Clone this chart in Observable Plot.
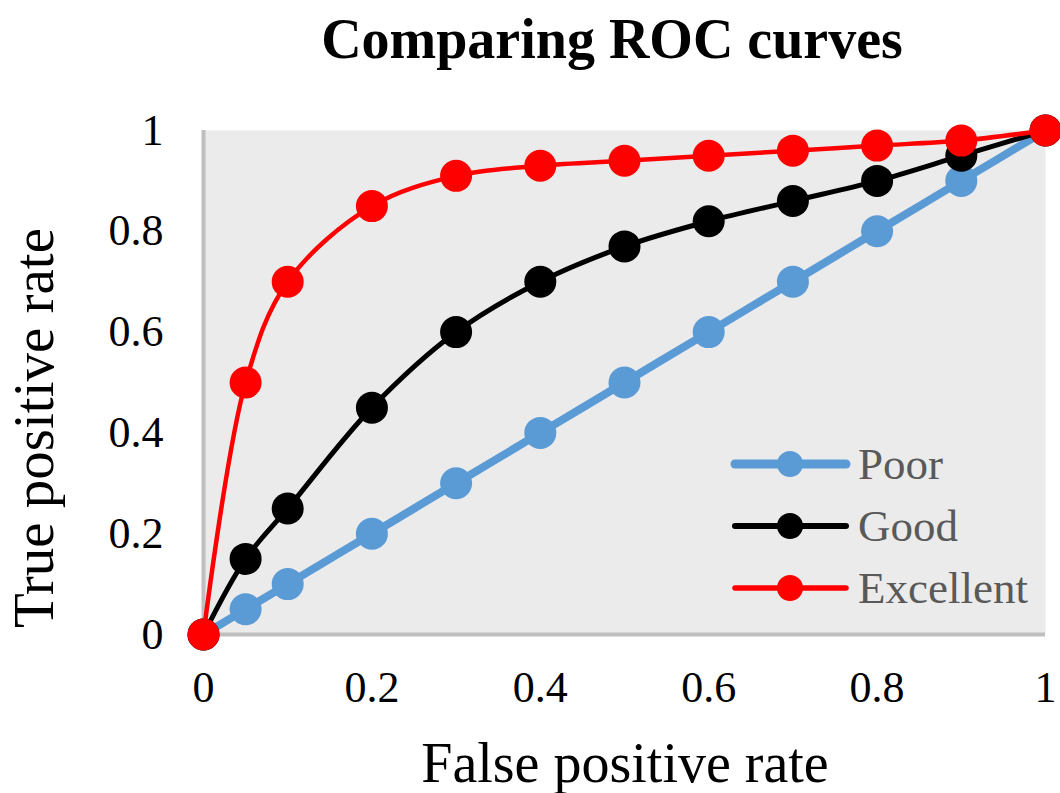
<!DOCTYPE html>
<html>
<head>
<meta charset="utf-8">
<script src="https://cdn.jsdelivr.net/npm/d3@7"></script>
<script src="https://cdn.jsdelivr.net/npm/@observablehq/plot@0.6"></script>
<style>
  body { margin: 0; background: #fff; }
  #wrap { position: relative; width: 1060px; height: 793px; font-family: "Liberation Serif", "Times New Roman", serif; }
  #wrap > svg { position: absolute; left: 0; top: 0; }
</style>
</head>
<body>
<div id="wrap"></div>
<script>
const fpr = [0, 0.05, 0.1, 0.2, 0.3, 0.4, 0.5, 0.6, 0.7, 0.8, 0.9, 1];
const poor = [0, 0.05, 0.1, 0.2, 0.3, 0.4, 0.5, 0.6, 0.7, 0.8, 0.9, 1];
const good = [0, 0.15, 0.25, 0.45, 0.6, 0.7, 0.77, 0.82, 0.86, 0.9, 0.95, 1];
const excellent = [0, 0.5, 0.7, 0.85, 0.91, 0.93, 0.94, 0.95, 0.96, 0.97, 0.98, 1];
const seriesNames = ["Poor", "Good", "Excellent"];
const seriesColors = ["#5b9bd5", "#000000", "#ff0000"];
const seriesWidths = [8, 5, 4.5];
const ticks = [0, 0.2, 0.4, 0.6, 0.8, 1];
const title = "Comparing ROC curves";
const xTitle = "False positive rate";
const yTitle = "True positive rate";

const seriesValues = [poor, good, excellent];
const marks = [
  Plot.frame({fill: "#ebebeb", stroke: null}),
  Plot.ruleX([0], {stroke: "#bfbfbf", strokeWidth: 4}),
  Plot.ruleY([0], {stroke: "#bfbfbf", strokeWidth: 4})
];
seriesValues.forEach((vals, i) => {
  const data = fpr.map((x, j) => ({x, y: vals[j]}));
  marks.push(Plot.line(data, {x: "x", y: "y", stroke: seriesColors[i], strokeWidth: seriesWidths[i], curve: "catmull-rom"}));
  marks.push(Plot.dot(data, {x: "x", y: "y", r: 16, fill: seriesColors[i], stroke: null}));
});

const chart = Plot.plot({
  width: 1060,
  height: 793,
  marginTop: 130,
  marginBottom: 159,
  marginLeft: 203,
  marginRight: 15,
  style: {fontFamily: "'Liberation Serif', 'Times New Roman', serif", fontSize: "44px", color: "#000", background: "transparent"},
  x: {domain: [0, 1], ticks, tickFormat: d => String(d), tickSize: 0, tickPadding: 36, label: null},
  y: {domain: [0, 1], ticks, tickFormat: d => String(d), tickSize: 0, tickPadding: 40, label: null},
  marks
});
document.getElementById("wrap").appendChild(chart);

// Overlay: title, axis titles, legend
const ov = d3.select("#wrap").append("svg")
  .attr("width", 1060).attr("height", 793)
  .style("font-family", "'Liberation Serif', 'Times New Roman', serif");

ov.append("text").attr("x", 612).attr("y", 58).attr("text-anchor", "middle")
  .attr("font-size", 56).attr("font-weight", "bold").attr("fill", "#000").text(title);

ov.append("text").attr("x", 625).attr("y", 782).attr("text-anchor", "middle")
  .attr("font-size", 56).attr("fill", "#000").text(xTitle);

ov.append("text").attr("transform", "translate(53,428) rotate(-90)").attr("text-anchor", "middle")
  .attr("font-size", 57).attr("fill", "#000").text(yTitle);

const legY = [464, 526, 588];
seriesNames.forEach((name, i) => {
  const g = ov.append("g");
  g.append("line").attr("x1", 735).attr("x2", 846).attr("y1", legY[i]).attr("y2", legY[i])
    .attr("stroke", seriesColors[i]).attr("stroke-width", seriesWidths[i] + 1).attr("stroke-linecap", "round");
  g.append("circle").attr("cx", 790).attr("cy", legY[i]).attr("r", 13).attr("fill", seriesColors[i]);
  g.append("text").attr("x", 858).attr("y", legY[i] + 15).attr("font-size", 45).attr("fill", "#595959").text(name);
});
</script>
</body>
</html>
